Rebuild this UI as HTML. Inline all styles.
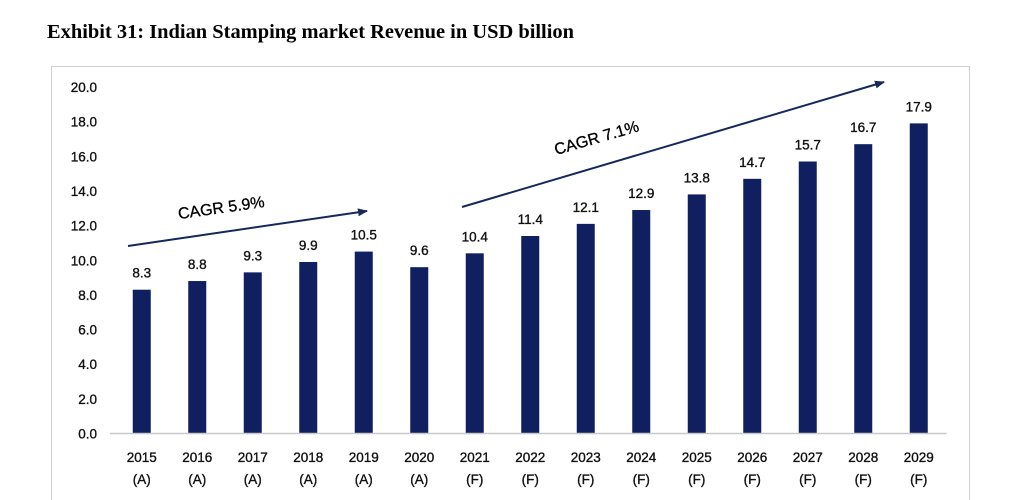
<!DOCTYPE html>
<html><head><meta charset="utf-8"><style>
body{margin:0;background:#fff;width:1024px;height:500px;overflow:hidden}
svg{display:block}
</style></head><body>
<svg width="1024" height="500" id="c">
<text x="47" y="38" textLength="527" lengthAdjust="spacingAndGlyphs" font-family="Liberation Serif, serif" font-weight="bold" font-size="19.5" fill="#000">Exhibit 31: Indian Stamping market Revenue in USD billion</text>
<rect x="51.5" y="66.5" width="918" height="440" fill="none" stroke="#d0d0d0"/>
<g id="yaxis"></g><g id="bars"></g><g id="xaxis"></g>
<defs><marker id="ah" markerWidth="10" markerHeight="8" refX="9" refY="4" orient="auto" markerUnits="userSpaceOnUse"><path d="M0,0 L10,4 L0,8 z" fill="#14285a"/></marker></defs>
<line x1="128" y1="246" x2="367" y2="211" stroke="#14285a" stroke-width="2" marker-end="url(#ah)"/>
<text x="222" y="213" transform="rotate(-8 222 213)" text-anchor="middle" font-family="Liberation Sans, sans-serif" font-size="16" fill="#000" stroke="#000" stroke-width="0.3">CAGR 5.9%</text>
<line x1="462" y1="207" x2="884" y2="82" stroke="#14285a" stroke-width="2" marker-end="url(#ah)"/>
<text x="598" y="143" transform="rotate(-16 598 143)" text-anchor="middle" font-family="Liberation Sans, sans-serif" font-size="16" fill="#000" stroke="#000" stroke-width="0.3">CAGR 7.1%</text>
</svg>
<script>
const years=["2015","2016","2017","2018","2019","2020","2021","2022","2023","2024","2025","2026","2027","2028","2029"];
const types=["(A)","(A)","(A)","(A)","(A)","(A)","(F)","(F)","(F)","(F)","(F)","(F)","(F)","(F)","(F)"];
const values=[8.3,8.8,9.3,9.9,10.5,9.6,10.4,11.4,12.1,12.9,13.8,14.7,15.7,16.7,17.9];
const yTicks=[0,2,4,6,8,10,12,14,16,18,20];
const NS="http://www.w3.org/2000/svg";
const y0=433.5,yTop=87,yMax=20,x0=114,band=55.5,bw=18;
const ys=v=>y0-(y0-yTop)*v/yMax;
const xs=i=>x0+band*i+band/2;
function mk(t,a,p){const e=document.createElementNS(NS,t);for(const k in a)e.setAttribute(k,a[k]);document.getElementById(p).appendChild(e);return e;}
const F="Liberation Sans, sans-serif";
const T={"font-family":F,"font-size":"13.5",fill:"#111",stroke:"#111","stroke-width":"0.35","text-anchor":"middle"};
yTicks.forEach(t=>{const e=mk("text",Object.assign({},T,{x:97,y:ys(t)+5,"text-anchor":"end"}),"yaxis");e.textContent=t.toFixed(1);

});
const ax=mk("line",{x1:x0-4,x2:x0+band*years.length,y1:y0,y2:y0,stroke:"#c8c8c8","stroke-width":1.5},"xaxis");


values.forEach((v,i)=>{const r=mk("rect",{x:xs(i)-bw/2,y:ys(v),width:bw,height:y0-ys(v),fill:"#0f1f5f"},"bars");


const l=mk("text",Object.assign({},T,{x:xs(i),y:ys(v)-12}),"bars");l.textContent=v.toFixed(1);


const a=mk("text",Object.assign({},T,{x:xs(i),y:462}),"xaxis");a.textContent=years[i];


const b=mk("text",Object.assign({},T,{x:xs(i),y:484}),"xaxis");b.textContent=types[i];

});
</script>
</body></html>
